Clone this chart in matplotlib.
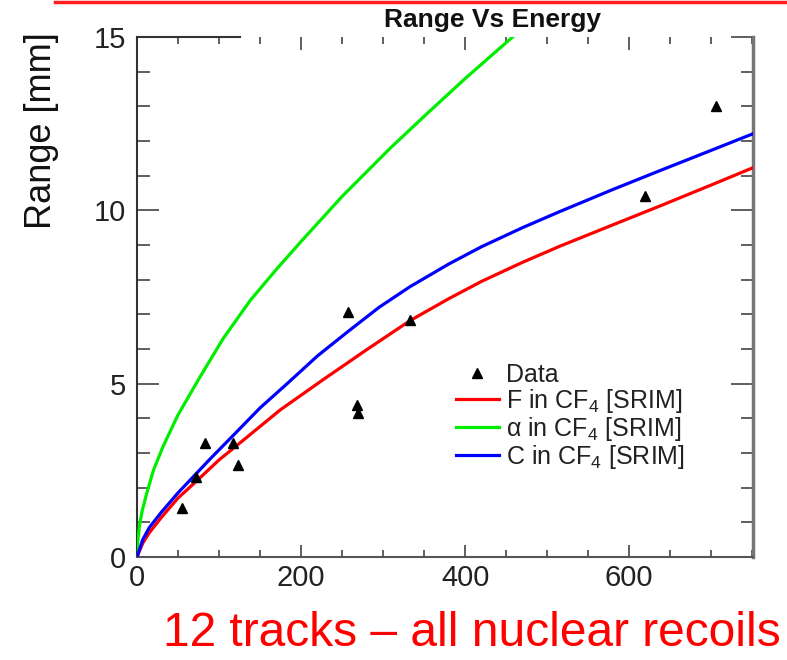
import matplotlib
matplotlib.use("Agg")
import matplotlib.pyplot as plt
from matplotlib.lines import Line2D
from matplotlib.ticker import MultipleLocator

plt.rcParams['font.family'] = ['Liberation Sans', 'DejaVu Sans']
plt.rcParams['mathtext.fontset'] = 'custom'
plt.rcParams['mathtext.rm'] = 'Liberation Sans'
plt.rcParams['mathtext.it'] = 'Liberation Sans:italic'

# Measured data points (energy, range)
data_energy = [55, 72, 83, 117, 123, 257, 268, 270, 333, 619, 706]
data_range = [1.42, 2.31, 3.29, 3.29, 2.66, 7.08, 4.39, 4.16, 6.85, 10.4, 13.0]

# SRIM curves
f_energy = [0, 7, 15, 30, 50, 73, 100, 126, 175, 226, 280, 333, 380, 420, 470, 516,
            580, 638, 700, 750]
f_range = [0, 0.4, 0.7, 1.15, 1.7, 2.2, 2.8, 3.3, 4.25, 5.1, 5.98, 6.82, 7.45, 7.95,
           8.5, 8.97, 9.58, 10.13, 10.73, 11.22]

c_energy = [0, 7, 15, 30, 50, 68, 90, 117, 150, 183, 220, 257, 295, 333, 380, 420,
            470, 516, 580, 638, 700, 750]
c_range = [0, 0.5, 0.85, 1.3, 1.85, 2.3, 2.85, 3.5, 4.3, 5.0, 5.8, 6.5, 7.2, 7.8,
           8.45, 8.95, 9.5, 9.97, 10.6, 11.15, 11.73, 12.2]

a_energy = [0, 1, 3, 6, 12, 20, 32, 50, 77, 105, 138, 170, 200, 250, 309, 355, 400, 470]
a_range = [0, 0.45, 0.9, 1.3, 1.85, 2.5, 3.2, 4.1, 5.2, 6.3, 7.4, 8.3, 9.1, 10.4,
           11.8, 12.82, 13.8, 15.25]

x_ticks = [0, 200, 400, 600]
y_ticks = [0, 5, 10, 15]

W, H = 787, 660
fig = plt.figure(figsize=(W / 100, H / 100), dpi=100)
ax = fig.add_axes([137 / W, (H - 557) / H, (753 - 137) / W, (557 - 37) / H])

ax.plot(f_energy, f_range, color='#ff0000', lw=2.3, label=r'F in CF$_4$ [SRIM]', zorder=3)
ax.plot(a_energy, a_range, color='#00ee00', lw=2.3, label='\u03b1 in CF$_4$ [SRIM]', zorder=3)
ax.plot(c_energy, c_range, color='#0000ff', lw=2.3, label=r'C in CF$_4$ [SRIM]', zorder=3)
ax.plot(data_energy, data_range, linestyle='none', marker='^', color='black',
        markersize=7, label='Data', zorder=4)

ax.set_xlim(0, 751)
ax.set_ylim(0, 15)
ax.set_xticks(x_ticks)
ax.set_yticks(y_ticks)
ax.xaxis.set_minor_locator(MultipleLocator(50))
ax.yaxis.set_minor_locator(MultipleLocator(1))

ax.tick_params(axis='y', which='major', direction='in', length=16, width=1.2,
               colors='#444444', labelcolor='#222222', labelsize=21, pad=8,
               left=True, right=True)
ax.tick_params(axis='y', which='minor', direction='in', length=9, width=1.2,
               colors='#444444', left=True, right=True)
ax.tick_params(axis='x', which='major', direction='in', length=9, width=1.2,
               colors='#444444', labelcolor='#222222', labelsize=21, pad=5,
               bottom=True, top=True)
ax.tick_params(axis='x', which='minor', direction='in', length=5, width=1.2,
               colors='#444444', bottom=True, top=True)

ax.spines['left'].set_color('#333333')
ax.spines['left'].set_linewidth(1.5)
ax.spines['bottom'].set_color('#555555')
ax.spines['bottom'].set_linewidth(1.5)
ax.spines['right'].set_color('#777777')
ax.spines['right'].set_linewidth(2.5)
ax.spines['top'].set_color('#333333')
ax.spines['top'].set_linewidth(1.5)
ax.spines['top'].set_bounds(0, 125)

ax.set_ylabel('Range [mm]', fontsize=26, color='#111111')
ax.yaxis.set_label_coords(-0.126, 1.01)
ax.yaxis.label.set_horizontalalignment('right')

fig.text(492 / W, 1 - 20 / H, 'Range Vs Energy', fontsize=19, fontweight='bold',
         ha='center', va='center', color='#111111')

handles, labels = ax.get_legend_handles_labels()
order = [3, 0, 1, 2]
leg = ax.legend([handles[i] for i in order], [labels[i] for i in order],
                loc='upper left', bbox_to_anchor=(456 / W, 1 - 363 / H),
                bbox_transform=fig.transFigure, frameon=False, fontsize=18,
                handlelength=1.7, handletextpad=0.3, labelspacing=0.0,
                borderpad=0, borderaxespad=0)
for t in leg.get_texts():
    t.set_color('#222222')

fig.text(472 / W, 1 - 633 / H, '12 tracks \u2013 all nuclear recoils', fontsize=34.5,
         color='#ff0000', ha='center', va='center')

fig.add_artist(Line2D([55 / W, 1.0], [1 - 2 / H, 1 - 2 / H], color='#ff2020', lw=2.5,
                      transform=fig.transFigure))

fig.savefig('out.png', dpi=100)
